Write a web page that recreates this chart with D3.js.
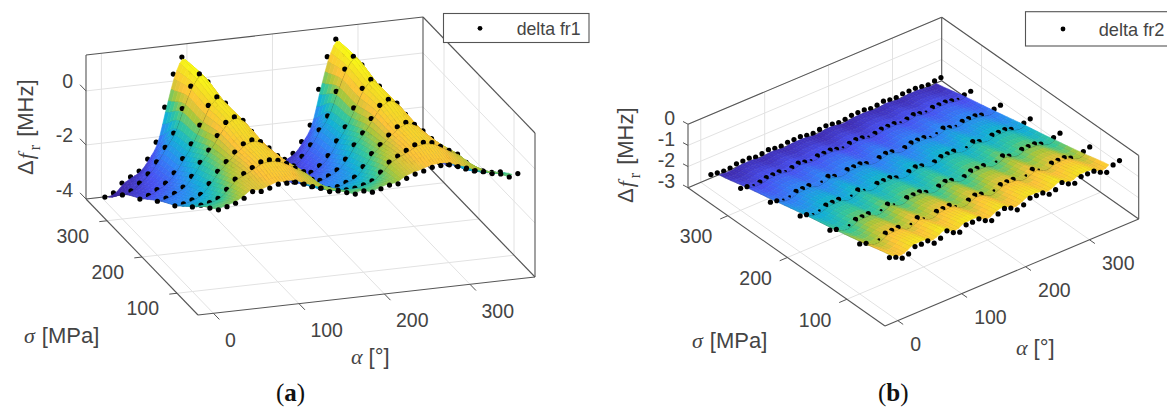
<!DOCTYPE html>
<html><head><meta charset="utf-8">
<script src="https://cdn.jsdelivr.net/npm/d3@7/dist/d3.min.js"></script>
<style>html,body{margin:0;padding:0;background:#fff}svg{display:block}</style>
</head><body><svg id="c" width="1167" height="411"></svg>
<script>
const alphaValues = d3.range(0, 361, 10);
const sigmaValues = [50, 100, 150, 200, 250, 300, 350];
const alphaTicks = [0, 100, 200, 300];
const sigmaTicks = [100, 200, 300];
const zTicksA = [-4, -2, 0];
const zTicksB = [-3, -2, -1, 0];
const parula = ["#3E26A8","#4852F4","#2E87F7","#12B1D6","#37C897","#ABC739","#FEC338","#F5DC25","#F9FB15"];
const parulaPos = [0,.127,.254,.38,.508,.635,.762,.889,1];

const fr1 = [
[-.24,-.34,-.26,-.17,-.02,.19,.16,.25,.36,.36,.36,.25,.13,.03,-.13,-.14,-.24,-.33,-.25,-.33,-.24,-.14,-.13,.04,.16,.24,.34,.37,.36,.26,.17,.04,-.03,-.14,-.19,-.34,-.25],
[-.87,-.84,-.78,-.66,-.36,-.02,.15,.34,.51,.55,.50,.35,.14,-.03,-.35,-.65,-.79,-.85,-.88,-.85,-.77,-.65,-.37,-.03,.16,.33,.50,.56,.51,.34,.15,-.02,-.36,-.66,-.78,-.84,-.86],
[-1.5,-1.46,-1.35,-1.18,-.82,-.40,-.08,.24,.51,.62,.52,.25,-.07,-.41,-.81,-1.17,-1.36,-1.45,-1.51,-1.47,-1.34,-1.19,-.83,-.39,-.09,.23,.50,.63,.52,.24,-.08,-.40,-.82,-1.18,-1.35,-1.46,-1.49],
[-2.0,-1.92,-1.78,-1.58,-1.22,-.74,-.32,.18,.63,.80,.64,.19,-.31,-.75,-1.21,-1.57,-1.79,-1.93,-2.01,-1.91,-1.77,-1.59,-1.23,-.73,-.33,.17,.62,.81,.63,.18,-.32,-.74,-1.22,-1.58,-1.78,-1.92,-1.99],
[-2.59,-2.49,-2.31,-2.11,-1.76,-1.27,-.76,-.10,.59,.87,.60,-.09,-.75,-1.28,-1.75,-2.12,-2.30,-2.50,-2.60,-2.48,-2.32,-2.10,-1.77,-1.26,-.77,-.11,.58,.88,.59,-.10,-.76,-1.27,-1.76,-2.11,-2.31,-2.49,-2.58],
[-3.11,-2.99,-2.74,-2.44,-2.03,-1.53,-1.03,-.16,.63,1.05,.72,-.15,-1.02,-1.54,-2.02,-2.45,-2.73,-3.0,-3.12,-2.98,-2.75,-2.43,-2.04,-1.52,-1.04,-.17,.62,1.06,.71,-.16,-1.03,-1.53,-2.03,-2.44,-2.74,-2.99,-3.10],
[-3.86,-3.74,-3.41,-3.22,-3.04,-2.63,-2.04,-.78,.41,1.0,.40,-.77,-2.03,-2.64,-3.03,-3.23,-3.40,-3.75,-3.85,-3.73,-3.42,-3.21,-3.03,-2.63,-2.05,-.76,.41,1.02,.42,-.78,-2.04,-2.62,-3.04,-3.22,-3.41,-3.74,-3.85]
];
const fr2 = [
[-.30,-.41,-.58,-.51,-.29,-.30,-.27,-.51,-.40,-.18,-.39,-.50,-.28,-.28,-.25,-.46,-.59,-.40,-.27,-.38,-.59,-.48,-.29,-.30,-.30,-.49,-.40,-.19,-.38,-.48,-.29,-.29,-.29,-.47,-.60,-.38,-.30],
[-.64,-.74,-.88,-.82,-.64,-.64,-.62,-.82,-.73,-.54,-.72,-.81,-.63,-.63,-.60,-.78,-.89,-.73,-.62,-.71,-.89,-.80,-.64,-.64,-.64,-.81,-.73,-.55,-.71,-.80,-.64,-.64,-.64,-.79,-.90,-.73,-.64],
[-.98,-1.07,-1.19,-1.14,-.98,-.98,-.96,-1.14,-1.06,-.89,-1.05,-1.13,-.97,-.97,-.95,-1.10,-1.20,-1.06,-.96,-1.04,-1.20,-1.12,-.98,-.98,-.98,-1.13,-1.06,-.90,-1.04,-1.12,-.98,-.98,-.98,-1.11,-1.21,-1.06,-.98],
[-1.29,-1.36,-1.47,-1.43,-1.29,-1.29,-1.27,-1.43,-1.36,-1.21,-1.35,-1.42,-1.28,-1.28,-1.26,-1.40,-1.48,-1.36,-1.27,-1.34,-1.48,-1.41,-1.29,-1.29,-1.29,-1.42,-1.36,-1.22,-1.34,-1.41,-1.29,-1.29,-1.29,-1.40,-1.49,-1.36,-1.29],
[-1.63,-1.69,-1.78,-1.75,-1.63,-1.63,-1.61,-1.75,-1.69,-1.56,-1.68,-1.74,-1.62,-1.62,-1.60,-1.72,-1.79,-1.69,-1.61,-1.67,-1.79,-1.73,-1.63,-1.63,-1.63,-1.74,-1.69,-1.57,-1.67,-1.73,-1.63,-1.63,-1.63,-1.72,-1.80,-1.69,-1.63],
[-1.96,-2.01,-2.08,-2.05,-1.96,-1.96,-1.95,-2.05,-2.0,-1.92,-2.0,-2.04,-1.96,-1.96,-1.94,-2.03,-2.08,-2.0,-1.95,-2.0,-2.08,-2.04,-1.96,-1.96,-1.96,-2.04,-2.0,-1.92,-2.0,-2.04,-1.96,-1.96,-1.96,-2.03,-2.08,-2.0,-1.96],
[-2.30,-2.34,-2.39,-2.37,-2.30,-2.30,-2.29,-2.37,-2.33,-2.27,-2.33,-2.36,-2.30,-2.30,-2.29,-2.35,-2.39,-2.33,-2.29,-2.33,-2.39,-2.36,-2.30,-2.30,-2.30,-2.36,-2.33,-2.27,-2.33,-2.36,-2.30,-2.30,-2.30,-2.35,-2.39,-2.33,-2.30]
];

const svg = d3.select("#c");
const INK = "#444", GRID = "#e2e2e2", BOX = "#555";
const SANS = "'Liberation Sans',Arial,sans-serif", SERIF = "'Liberation Serif',serif";

function catmull(p0, p1, p2, p3, t) {
  return 0.5 * (2*p1 + (p2-p0)*t + (2*p0-5*p1+4*p2-p3)*t*t + (3*p1-p0-3*p2+p3)*t*t*t);
}
function surfaceZ(tbl, a, s) {
  const fa = (a - alphaValues[0]) / 10, fs = (s - sigmaValues[0]) / 50;
  const ia = Math.min(Math.floor(fa), alphaValues.length-2), is = Math.min(Math.floor(fs), sigmaValues.length-2);
  const ta = fa-ia, ts = fs-is;
  const row = r => {
    const R = tbl[Math.max(0, Math.min(sigmaValues.length-1, r))];
    const g = k => R[Math.max(0, Math.min(alphaValues.length-1, k))];
    return catmull(g(ia-1), g(ia), g(ia+1), g(ia+2), ta);
  };
  return catmull(row(is-1), row(is), row(is+1), row(is+2), ts);
}

function panel(cfg) {
  const g = svg.append("g");
  const aS = d3.scaleLinear().domain(cfg.aDom).range([0,1]);
  const sS = d3.scaleLinear().domain(cfg.sDom).range([0,1]);
  const zS = d3.scaleLinear().domain(cfg.zDom).range([0,1]);
  const P = (a,s,z) => [cfg.o[0]+aS(a)*cfg.A[0]+sS(s)*cfg.S[0], cfg.o[1]+aS(a)*cfg.A[1]+sS(s)*cfg.S[1]-zS(z)*cfg.H];
  const [a0,a1]=cfg.aDom,[s0,s1]=cfg.sDom,[z0,z1]=cfg.zDom;
  const line=(p,q,st,w)=>g.append("line").attr("x1",p[0]).attr("y1",p[1]).attr("x2",q[0]).attr("y2",q[1]).attr("stroke",st).attr("stroke-width",w);
  alphaTicks.forEach(t=>{ line(P(t,s0,z0),P(t,s1,z0),GRID,1); line(P(t,s1,z0),P(t,s1,z1),GRID,1); });
  sigmaTicks.forEach(t=>{ line(P(a0,t,z0),P(a1,t,z0),GRID,1); line(P(a1,t,z0),P(a1,t,z1),GRID,1); });
  cfg.zTicks.forEach(t=>{ line(P(a0,s1,t),P(a1,s1,t),GRID,1); line(P(a1,s1,t),P(a1,s0,t),GRID,1); });
  [[[a0,s1,z0],[a1,s1,z0]],[[a1,s1,z0],[a1,s0,z0]],[[a0,s0,z0],[a1,s0,z0]],[[a0,s0,z0],[a0,s1,z0]],
   [[a0,s1,z0],[a0,s1,z1]],[[a0,s1,z1],[a1,s1,z1]],[[a1,s1,z1],[a1,s0,z1]],[[a1,s0,z1],[a1,s0,z0]],[[a1,s1,z0],[a1,s1,z1]]]
   .forEach(e=>line(P(...e[0]),P(...e[1]),BOX,1.1));
  const FS=19.5;
  alphaTicks.forEach(t=>{ const r=P(t,s0,z0); line(r,[r[0]+cfg.tA[0],r[1]+cfg.tA[1]],BOX,1);
    g.append("text").attr("x",r[0]+cfg.lA[0]).attr("y",r[1]+cfg.lA[1]).attr("dy","0.36em").attr("font-family",SANS).attr("font-size",FS).attr("fill",INK).text(t); });
  sigmaTicks.forEach(t=>{ const r=P(a0,t,z0); line(r,[r[0]+cfg.tS[0],r[1]+cfg.tS[1]],BOX,1);
    g.append("text").attr("x",r[0]+cfg.lS[0]).attr("y",r[1]+cfg.lS[1]).attr("dy","0.36em").attr("text-anchor","end").attr("font-family",SANS).attr("font-size",FS).attr("fill",INK).text(t); });
  cfg.zTicks.forEach(t=>{ const r=P(a0,s1,t); line(r,[r[0]+cfg.tZ[0],r[1]+cfg.tZ[1]],BOX,1);
    g.append("text").attr("x",r[0]+cfg.lZ[0]).attr("y",r[1]+cfg.lZ[1]).attr("dy","0.36em").attr("text-anchor","end").attr("font-family",SANS).attr("font-size",FS).attr("fill",INK).text(t); });

  const cs = d3.scaleLinear().domain(parulaPos).range(parula);
  const tz = d3.scaleLinear().domain(cfg.cDom).range([0,1]).clamp(true);
  const zCol = z=>cs(Math.pow(tz(z),cfg.cExp));
  const w=cfg.kernel;
  const fit = cfg.table.map(R=>R.map((z,i)=>w*R[Math.max(0,i-1)]+(1-2*w)*z+w*R[Math.min(R.length-1,i+1)]));
  const aFine = d3.range(cfg.aCut[0], cfg.aCut[1]+.001, cfg.da), sFine = d3.range(cfg.sCut[0], cfg.sCut[1]+.001, cfg.ds);
  const grid = sFine.map(s=>aFine.map(a=>{ const z=surfaceZ(fit,a,s); return {a,s,z,p:P(a,s,z)}; }));
  const LA=Math.hypot(...cfg.A), LS=Math.hypot(...cfg.S);
  const key=(a,s)=>aS(a)*LA+sS(s)*LS;
  const items=[];
  for(let j=0;j<sFine.length-1;j++) for(let i=0;i<aFine.length-1;i++){
    const c=[grid[j][i],grid[j][i+1],grid[j+1][i+1],grid[j+1][i]];
    items.push({k:key((c[0].a+c[1].a)/2,(c[0].s+c[3].s)/2),t:"c",c,j,i});
  }
  cfg.table.forEach((row,j)=>row.forEach((z,i)=>{
    const a=alphaValues[i], s=sigmaValues[j];
    const interior = j>0 && j<sigmaValues.length-1 && i>0 && i<alphaValues.length-1;
    const diff = z-fit[j][i];
    let r=2.6;
    if(cfg.sink && interior){ if(diff<-.02) r=0; else if(diff<-.008) r=1.4; }
    if(r>0) items.push({k:key(a,s)-cfg.bias,t:"d",p:P(a,s,z),r});
  }));
  items.sort((x,y)=>y.k-x.k);
  const sg=g.append("g");
  items.forEach(it=>{
    if(it.t==="c"){
      const c=it.c, col=zCol(d3.mean(c,d=>d.z));
      const d="M"+c.map(q=>q.p[0].toFixed(2)+","+q.p[1].toFixed(2)).join("L")+"Z";
      sg.append("path").attr("d",d).attr("fill",col).attr("stroke",col).attr("stroke-width",.6);
      sg.append("path").attr("d",`M${c[0].p}L${c[3].p}`).attr("fill","none").attr("stroke","rgba(40,40,40,.36)").attr("stroke-width",.55);
      const sr=Math.round(c[0].s/10)*10;
      if(sr%cfg.rowEvery===0)
        sg.append("path").attr("d",`M${c[0].p}L${c[1].p}`).attr("fill","none").attr("stroke","rgba(20,20,20,.75)").attr("stroke-width",.8);
    } else {
      sg.append("circle").attr("cx",it.p[0]).attr("cy",it.p[1]).attr("r",it.r).attr("fill","#000");
    }
  });
  const L=cfg.legend;
  g.append("rect").attr("x",L.x).attr("y",L.y).attr("width",L.w).attr("height",L.h).attr("fill","#fff").attr("stroke",BOX).attr("stroke-width",1.1);
  g.append("circle").attr("cx",L.dx).attr("cy",L.dy).attr("r",2.4).attr("fill","#000");
  g.append("text").attr("x",L.tx).attr("y",L.dy).attr("dy","0.36em").attr("font-family",SANS).attr("font-size",L.fs).attr("fill",INK).text(L.text);
  const zl=g.append("text").attr("transform",`translate(${cfg.zLab[0]},${cfg.zLab[1]}) rotate(-90)`).attr("font-family",SANS).attr("font-size",22).attr("fill",INK);
  zl.append("tspan").text("\u0394");
  zl.append("tspan").attr("font-family",SERIF).attr("font-style","italic").attr("dx",1).text("f");
  zl.append("tspan").attr("font-family",SERIF).attr("font-size",16).attr("dy",7).attr("dx",3).text("r");
  zl.append("tspan").attr("dy",-7).attr("dx",8).text("[MHz]");
  const sl=g.append("text").attr("x",cfg.sLab[0]).attr("y",cfg.sLab[1]).attr("font-family",SANS).attr("font-size",22).attr("fill",INK);
  sl.append("tspan").attr("font-family",SERIF).attr("font-style","italic").text("\u03C3");
  sl.append("tspan").attr("dx",7).text("[MPa]");
  const al=g.append("text").attr("x",cfg.aLab[0]).attr("y",cfg.aLab[1]).attr("font-family",SANS).attr("font-size",22).attr("fill",INK);
  al.append("tspan").attr("font-family",SERIF).attr("font-style","italic").text("\u03B1");
  al.append("tspan").attr("dx",6).text("[\u00B0]");
  const cap=g.append("text").attr("x",cfg.cap[0]).attr("y",cfg.cap[1]).attr("font-family",SERIF).attr("font-size",25).attr("fill","#111");
  cap.append("tspan").text("(");
  cap.append("tspan").attr("font-weight","bold").text(cfg.capText);
  cap.append("tspan").text(")");
}

panel({
  table:fr1,o:[198,315],A:[337,-38],S:[-112,-116],H:144,aDom:[-18,376],sDom:[40,360],zDom:[-4,1.33],zTicks:zTicksA,
  tA:[6,6.2],lA:[11.5,26.5],tS:[-7.7,.9],lS:[-18,15],tZ:[-6,-6.2],lZ:[-13,-9.5],kernel:0,sink:false,rowEvery:50,
  aCut:[2,358],sCut:[55,345],da:10/3,ds:10,bias:3,cDom:[-3.9,1.05],cExp:1.75,
  legend:{x:443.5,y:13.5,w:145.5,h:29,dx:480,dy:28.3,tx:516.7,fs:17.7,text:"delta fr1"},
  zLab:[33,175],sLab:[24,343],aLab:[351,364],cap:[276,401],capText:"a"
});
panel({
  table:fr2,o:[885,326],A:[253.7,-107],S:[-197,-138.3],H:63.5,aDom:[-20,377],sDom:[36,367],zDom:[-3,0],zTicks:zTicksB,
  tA:[5.4,3.8],lA:[12.5,23],tS:[-7.7,3.3],lS:[-15.5,20.5],tZ:[-5,-2.7],lZ:[-13,-6.3],kernel:.12,sink:true,rowEvery:50,
  aCut:[8,352],sCut:[55,346],da:5,ds:10,bias:3,cDom:[-2.45,-.18],cExp:1.3,
  legend:{x:1025.5,y:11.7,w:160,h:34.3,dx:1063,dy:29,tx:1098.7,fs:18.2,text:"delta fr2"},
  zLab:[633,203],sLab:[692,348],aLab:[1016,355],cap:[878,401],capText:"b"
});
</script></body></html>
